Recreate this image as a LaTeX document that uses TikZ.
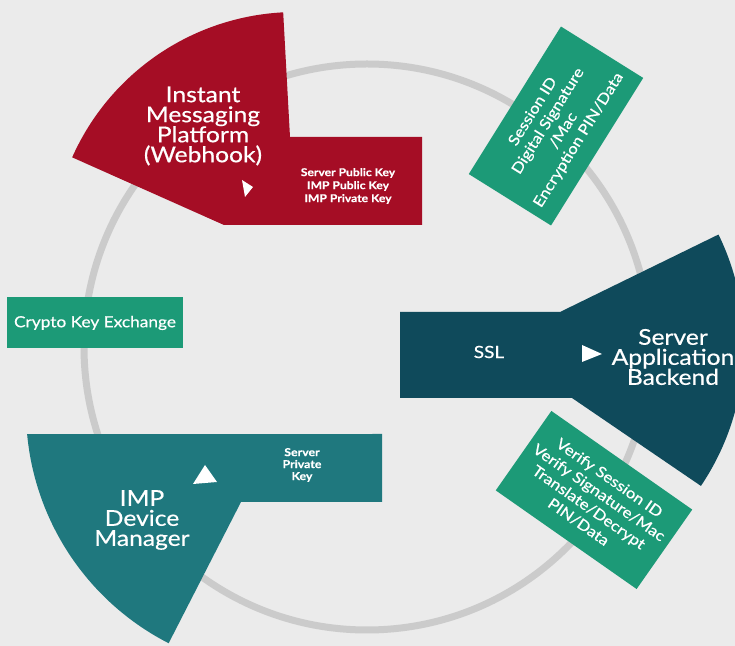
\documentclass[tikz,border=0pt]{standalone}
\usepackage{fontspec}
\setmainfont{Lato}[FakeStretch=1.13, FakeBold=0.5]
\usetikzlibrary{calc, positioning}

\definecolor{bggray}{HTML}{EBEBEB}
\definecolor{ringgray}{HTML}{CBCBCB}
\definecolor{impred}{HTML}{A50D25}
\definecolor{keygreen}{HTML}{1C9A77}
\definecolor{serverblue}{HTML}{0F4A5B}
\definecolor{deviceteal}{HTML}{1F787E}

\tikzset{
    title_text/.style={text=white, align=center, inner sep=0pt, font=\fontsize{12.4}{11.4}\selectfont},
    key_text/.style={text=white, align=center, inner sep=0pt, font=\fontsize{6.1}{7.4}\selectfont\bfseries},
    green_box/.style={rectangle, fill=keygreen, text=white, align=center, inner sep=0pt,
        minimum width=3.48cm, minimum height=1.94cm, font=\fontsize{8.5}{10.2}\selectfont},
    ring/.style={draw=ringgray, line width=0.14cm},
    pointer/.style={fill=white},
}

\begin{document}
\begin{tikzpicture}[x=0.02cm, y=0.02cm]
      \useasboundingbox (0,0) rectangle (735,646);
      \clip (0,0) rectangle (735,646);
      \fill[bggray] (0,0) rectangle (735,646);

      %%%%%%%%%%%%%%%
      % Ring        %
      %%%%%%%%%%%%%%%
      \coordinate (hub) at (367,299);
      \draw [ring] (hub) circle[radius=283];

      %%%%%%%%%%%%%%%
      % Wedges      %
      %%%%%%%%%%%%%%%
      \coordinate (imp_tip) at (296,389);
      \coordinate (srv_tip) at (492,301);
      \coordinate (dev_tip) at (288,236);

      \fill [impred] (224,421) -- ($(imp_tip)+(156:245)$)
          arc[start angle=156, end angle=93, radius=245]
          -- (290,509) -- (422,509) -- (422,421) -- cycle;
      \fill [serverblue] (400,334) -- (560,334) -- ($(srv_tip)+(26:252)$)
          arc[start angle=26, end angle=-34, radius=252]
          -- (572,248) -- (400,248) -- cycle;
      \fill [deviceteal] ($(dev_tip)+(185.3:262)$) -- (382,212) -- (382,144)
          -- (241,144) -- ($(dev_tip)+(242.9:262)$)
          arc[start angle=242.9, end angle=185.3, radius=262] -- cycle;

      \fill [pointer] (242,466) -- (253,459) -- (245,449) -- cycle;
      \fill [pointer] (582,301) -- (602,292) -- (582,284) -- cycle;
      \fill [pointer] (205,181) -- (217,164) -- (193,162) -- cycle;

      %%%%%%%%%%%%%%%
      % Labels      %
      %%%%%%%%%%%%%%%
      \node (imp_title) [title_text] at (203,520)
          {Instant\\Messaging\\Platform\\(Webhook)};
      \node (imp_keys) [key_text] at (348,460)
          {Server Public Key\\IMP Public Key\\IMP Private Key};
      \node (srv_title) [title_text] at (673,289)
          {Server\\Application\\Backend};
      \node (ssl) [text=white, font=\fontsize{9.6}{11}\selectfont] at (489,294)
          {SSL};
      \node (dev_title) [title_text] at (142,126)
          {IMP\\Device\\Manager};
      \node (dev_keys) [key_text, font=\fontsize{6.2}{6.8}\selectfont\bfseries] at (302,181)
          {Server\\Private\\Key};

      \node (sign_box) [green_box, rotate=58] at (556,520)
          {Session ID\\Digital Signature\\/Mac\\Encryption PIN/Data};
      \node (verify_box) [green_box, rotate=-35, minimum width=3.44cm] at (594,146)
          {Verify Session ID\\Verify Signature/Mac\\Translate/Decrypt\\PIN/Data};
      \node (crypto_box) [green_box, minimum width=3.52cm, minimum height=1.02cm,
          font=\fontsize{8.7}{10}\selectfont] at (95,323)
          {Crypto Key Exchange};
\end{tikzpicture}
\end{document}
